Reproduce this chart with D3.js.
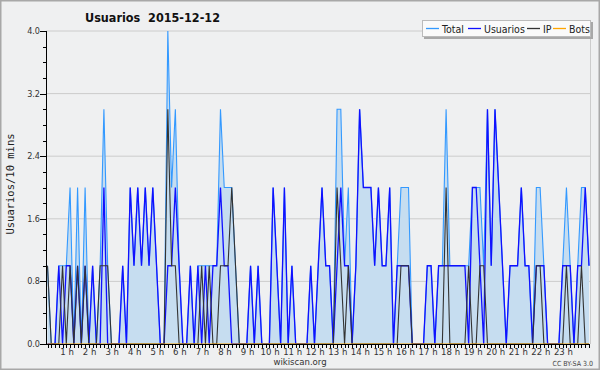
<!DOCTYPE html>
<html>
<head>
<meta charset="utf-8">
<script src="https://cdn.jsdelivr.net/npm/d3@7"></script>
<style>
  body { margin: 0; background: #eff0f1; }
  svg { display: block; font-family: "DejaVu Sans Condensed", "DejaVu Sans", sans-serif; }
</style>
</head>
<body>
<div id="chart"></div>
<script>
// values every 10 minutes, 00:00 .. 24:00
const total = [
  1,0,0,1,1,1,2,0,2,0,2,0,1,0,1,3,1,0,0,0,1,0,2,1,2,
  1,2,1,2,1,0,0,4,2,3,1,0,0,1,0,1,1,1,1,1,1,3,2,2,2,
  1,0,0,0,1,0,1,0,0,0,2,1,0,2,0,1,0,0,0,0,1,0,1,2,1,
  1,0,3,3,1,2,0,1,3,2,2,2,1,2,1,1,2,0,1,2,2,2,0,0,0,
  0,1,1,0,1,1,3,1,1,1,1,1,1,2,2,2,1,3,1,3,2,1,0,1,1,
  1,2,1,1,0,2,2,1,0,0,0,0,1,2,1,0,1,2,2,1
];
const usuarios = [
  0,0,0,1,0,1,1,0,1,0,1,0,1,0,0,2,0,0,0,0,1,0,2,1,2,
  1,2,1,2,1,0,0,1,1,2,1,0,0,1,0,1,0,1,0,1,1,2,1,1,0,
  0,0,0,0,1,0,1,0,0,0,2,1,0,2,0,1,0,0,0,0,1,0,1,2,1,
  1,0,1,2,1,1,0,1,3,2,2,2,1,2,1,1,2,0,1,1,1,1,0,0,0,
  0,1,1,0,1,1,1,1,1,1,1,1,0,2,2,1,0,3,1,3,2,1,0,1,1,
  1,2,1,1,0,1,1,1,0,0,0,0,1,1,1,0,1,1,2,1
];
const ip = [
  1,0,0,0,1,0,1,0,1,0,1,0,0,0,1,1,1,0,0,0,0,0,0,0,0,
  0,0,0,0,0,0,0,3,1,1,0,0,0,0,0,0,1,0,1,0,0,1,1,1,2,
  1,0,0,0,0,0,0,0,0,0,0,0,0,0,0,0,0,0,0,0,0,0,0,0,0,
  0,0,2,1,0,1,0,0,0,0,0,0,0,0,0,0,0,0,0,1,1,1,0,0,0,
  0,0,0,0,0,0,2,0,0,0,0,0,1,0,0,1,1,0,0,0,0,0,0,0,0,
  0,0,0,0,0,1,1,0,0,0,0,0,0,1,0,0,0,1,0,0
];
const bots = [
  0,0,0,0,0,0,0,0,0,0,0,0,0,0,0,0,0,0,0,0,0,0,0,0,0,
  0,0,0,0,0,0,0,0,0,0,0,0,0,0,0,0,0,0,0,0,0,0,0,0,0,
  0,0,0,0,0,0,0,0,0,0,0,0,0,0,0,0,0,0,0,0,0,0,0,0,0,
  0,0,0,0,0,0,0,0,0,0,0,0,0,0,0,0,0,0,0,0,0,0,0,0,0,
  0,0,0,0,0,0,0,0,0,0,0,0,0,0,0,0,0,0,0,0,0,0,0,0,0,
  0,0,0,0,0,0,0,0,0,0,0,0,0,0,0,0,0,0,0,0
];
const hourLabels = ["1 h","2 h","3 h","4 h","5 h","6 h","7 h","8 h","9 h","10 h","11 h","12 h",
  "13 h","14 h","15 h","16 h","17 h","18 h","19 h","20 h","21 h","22 h","23 h"];
const yTicks = [0, 0.8, 1.6, 2.4, 3.2, 4.0];
const legendNames = ["Total", "Usuarios", "IP", "Bots"];
const legendColors = ["#3399ff", "#1010ff", "#333333", "#ffa500"];

const W = 600, H = 370;
const svg = d3.select("#chart").append("svg").attr("width", W).attr("height", H);

svg.append("rect").attr("x", 0.75).attr("y", 0.75).attr("width", W - 1.5).attr("height", H - 1.5)
  .attr("fill", "#eff0f1").attr("stroke", "#a8a8a8").attr("stroke-width", 1.5);

const x = d3.scaleLinear().domain([0, 144]).range([47.5, 589]);
const y = d3.scaleLinear().domain([0, 4]).range([344, 31]);

// grid
svg.append("g").selectAll("line").data(yTicks.slice(1)).join("line")
  .attr("x1", 46).attr("x2", 590).attr("y1", d => y(d)).attr("y2", d => y(d))
  .attr("stroke", "#cccccc").attr("stroke-width", 1);
svg.append("line").attr("x1", 590.5).attr("x2", 590.5).attr("y1", y(4)).attr("y2", y(0))
  .attr("stroke", "#cccccc");

// series
const idx = d3.range(total.length);
const area = d3.area().x(i => x(i)).y0(y(0)).y1(i => y(total[i]));
svg.append("path").datum(idx).attr("d", area).attr("fill", "#c6ddf0");

function drawLine(vals, color, w) {
  const line = d3.line().x(i => x(i)).y(i => y(vals[i]));
  svg.append("path").datum(idx).attr("d", line).attr("fill", "none")
    .attr("stroke", color).attr("stroke-width", w).attr("stroke-linejoin", "miter");
}
drawLine(total, legendColors[0], 1.1);
drawLine(usuarios, legendColors[1], 1.3);
drawLine(ip, legendColors[2], 1.1);
drawLine(bots, legendColors[3], 1.1);

// y axis
const yAxis = svg.append("g").attr("font-size", 9).attr("fill", "#333");
yAxis.append("line").attr("x1", 46.5).attr("x2", 46.5).attr("y1", y(4)).attr("y2", y(0) + 1)
  .attr("stroke", "#000");
yAxis.selectAll("line.minor").data(d3.range(0, 21)).join("line").attr("class", "minor")
  .attr("x1", d => d % 4 === 0 ? 40 : 43).attr("x2", 46)
  .attr("y1", d => Math.round(y(d * 0.2)) + 0.5).attr("y2", d => Math.round(y(d * 0.2)) + 0.5)
  .attr("stroke", "#000");
yAxis.selectAll("text").data(yTicks).join("text")
  .attr("x", 40).attr("y", d => y(d) + 3).attr("text-anchor", "end")
  .text(d => d.toFixed(1));

// x axis
const xAxis = svg.append("g");
xAxis.append("line").attr("x1", 46).attr("x2", 590).attr("y1", 344.5).attr("y2", 344.5)
  .attr("stroke", "#000").attr("stroke-width", 1.2);
xAxis.selectAll("line.tick").data(idx).join("line").attr("class", "tick")
  .attr("x1", i => Math.round(x(i)) + 0.5).attr("x2", i => Math.round(x(i)) + 0.5)
  .attr("y1", 344).attr("y2", 348).attr("stroke", "#000");
xAxis.selectAll("text").data(hourLabels).join("text")
  .attr("x", (d, k) => x((k + 1) * 6) - 3).attr("y", 355).attr("text-anchor", "middle")
  .attr("font-size", 9.5).attr("fill", "#333").text(d => d);

// titles
svg.append("text").attr("x", 85).attr("y", 22).attr("font-size", 12.5).attr("font-weight", "bold")
  .attr("fill", "#111").attr("xml:space", "preserve").style("white-space", "pre")
  .text("Usuarios  2015-12-12");
svg.append("text").attr("transform", "translate(14,184) rotate(-90)").attr("text-anchor", "middle")
  .attr("font-family", "DejaVu Sans Mono").attr("font-size", 10.5).attr("fill", "#222")
  .text("Usuarios/10 mins");
svg.append("text").attr("x", 300).attr("y", 365).attr("text-anchor", "middle")
  .attr("font-size", 9.5).attr("fill", "#333").text("wikiscan.org");
svg.append("text").attr("x", 593).attr("y", 366).attr("text-anchor", "end")
  .attr("font-size", 7).attr("fill", "#444").text("CC BY-SA 3.0");

// legend
const lg = svg.append("g");
lg.append("rect").attr("x", 424).attr("y", 22).attr("width", 169).attr("height", 17).attr("fill", "#a8a8a8");
lg.append("rect").attr("x", 422.5).attr("y", 20.5).attr("width", 168).attr("height", 16)
  .attr("fill", "#fafafa").attr("stroke", "#bbbbbb");
const legX = [426, 468, 527, 553];
legendNames.forEach((n, k) => {
  lg.append("line").attr("x1", legX[k]).attr("x2", legX[k] + 13).attr("y1", 28.5).attr("y2", 28.5)
    .attr("stroke", legendColors[k]).attr("stroke-width", 1.3);
  lg.append("text").attr("x", legX[k] + 16).attr("y", 32.5).attr("font-size", 10.5)
    .attr("fill", "#222").text(n);
});
</script>
</body>
</html>
